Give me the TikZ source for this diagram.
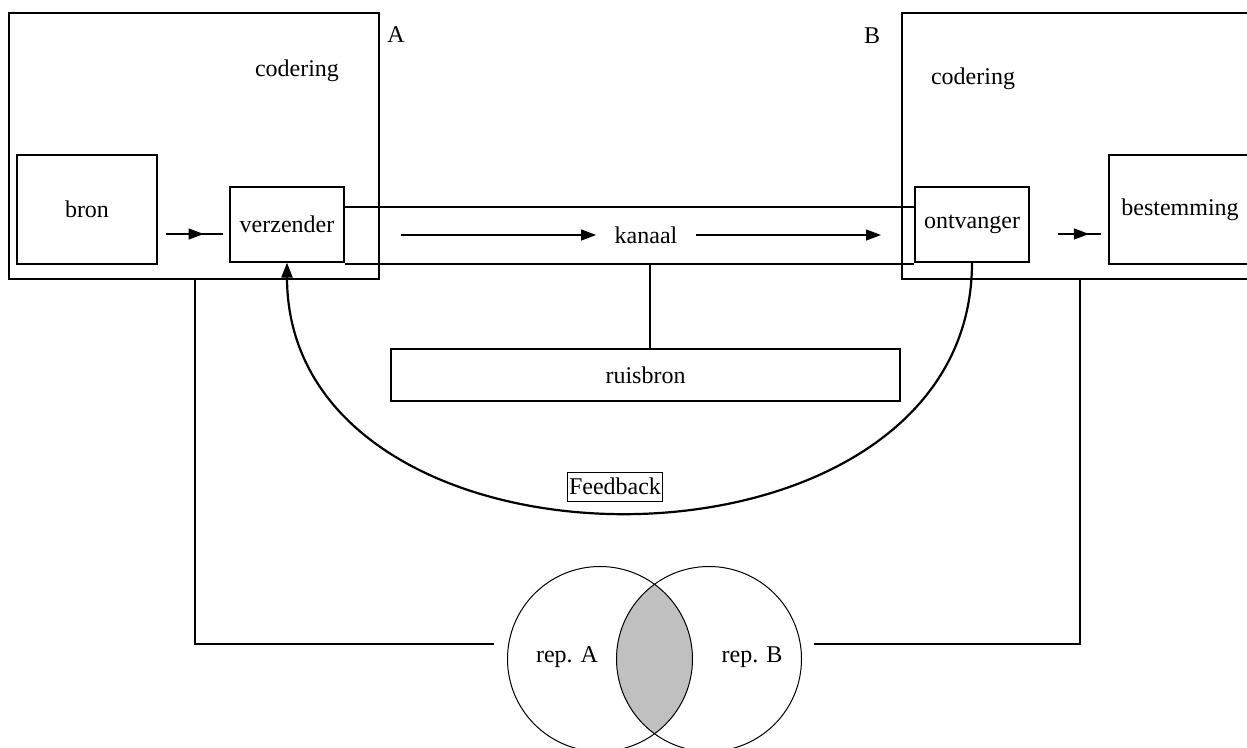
\documentclass[tikz,border=0pt]{standalone}
\usepackage{fontspec}
\setmainfont{Liberation Serif}
\usepackage{tikz}
\usetikzlibrary{positioning,arrows.meta,decorations.markings}
\definecolor{zilver}{RGB}{192,192,192}
\tikzset{%
  block/.style    = {draw, rectangle, inner sep = 0pt},
  tekst/.style    = {inner sep = 1pt}, % plain text
  kring/.style    = {draw, circle, inner sep = 0pt, minimum size = 185pt, line width = 1pt},
  midpijl/.style  = {postaction = {decorate}, decoration = {markings,
    mark = at position #1 with {\arrow{>}}}}
}

\begin{document}
\begin{tikzpicture}[x=1pt, y=-1pt, line width=1.2pt, >={Triangle[length=15pt, width=11pt]},
  font=\fontsize{24}{28}\selectfont]
  \useasboundingbox (0,0) rectangle (1247,747);
  \clip (0,0) rectangle (1247,747);

	\draw node at (194,146) [block, minimum width = 370pt, minimum height = 266pt] (kaderA) {};
	\draw node at (1086,146) [block, minimum width = 368pt, minimum height = 266pt] (kaderB) {};
	\draw node at (396,35) [tekst] (letterA) {A};
	\draw node at (872,36) [tekst] (letterB) {B};
	\draw node at (297,71) [tekst] (coderingA) {codering};
	\draw node at (973,79) [tekst] (coderingB) {codering};

	\draw node at (87,209.5) [block, minimum width = 140pt, minimum height = 109pt] (bron) {bron};
	\draw node at (287,224.5) [block, minimum width = 114pt, minimum height = 75pt] (verzender) {verzender};
	\draw node at (972,224.5) [block, minimum width = 114pt, minimum height = 75pt] (ontvanger) {ontvanger};
	\draw node at (1180,209.5) [block, minimum width = 142pt, minimum height = 109pt] (bestemming) {bestemming};
	\draw node at (645.5,375) [block, minimum width = 509pt, minimum height = 52pt] (ruisbron) {ruisbron};
	\draw node at (646,235) [tekst, inner xsep = 18pt] (kanaal) {kanaal};
	\draw node at (615,486.5) [block, line width = 1pt, inner xsep = 2pt, minimum height = 29pt] (feedback) {Feedback};

  % kanaal
  \coordinate (kboven) at (0,207);
  \coordinate (konder) at (0,264);
  \draw (verzender.east |- kboven) -- (ontvanger.west |- kboven);
  \draw (verzender.east |- konder) -- (ontvanger.west |- konder);
  \coordinate (k1) at (401,235);
  \coordinate (k2) at (881,235);
  \draw[->] (k1) -- (kanaal.west);
  \draw[->] (kanaal.east) -- (k2);
  \coordinate (ruis) at (650,264);
  \draw (ruis) -- (ruis |- ruisbron.north);

  \coordinate (b1) at (166,234);
  \coordinate (b2) at (223,234);
  \draw[midpijl=0.66] (b1) -- (b2);
  \coordinate (o1) at (1058,234);
  \coordinate (o2) at (1101,234);
  \draw[midpijl=0.72] (o1) -- (o2);

  % feedback
  \draw[->, line width = 2.2pt] (ontvanger.south) .. controls +(0,333) and +(0,333) .. (verzender.south);

  % repertoires
  \coordinate (cA) at (600,659);
  \coordinate (cB) at (709,659);
  \begin{scope}
    \clip (cA) circle[radius = 92.5pt];
    \fill[zilver] (cB) circle[radius = 92.5pt];
  \end{scope}
	\draw node at (cA) [kring] (repA) {};
	\draw node at (cB) [kring] (repB) {};
	\draw node at (567,657) [tekst] (tekstA) {rep. A};
	\draw node at (752,657) [tekst] (tekstB) {rep. B};

  \coordinate (vA) at (195,279);
  \coordinate (hA) at (494,644);
  \coordinate (vB) at (1080,279);
  \coordinate (hB) at (814,644);
  \draw (vA) |- (hA);
  \draw (vB) |- (hB);

\end{tikzpicture}
\end{document}
